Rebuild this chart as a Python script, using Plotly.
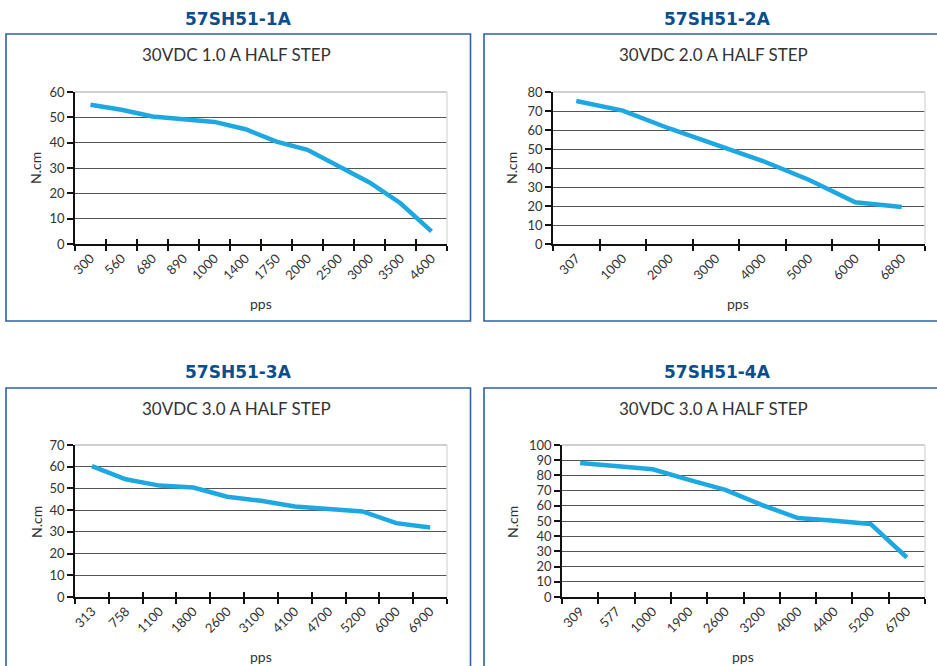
import plotly.graph_objects as go

W, H = 937, 666

# ---- data ----
titles = ["57SH51-1A", "57SH51-2A", "57SH51-3A", "57SH51-4A"]
subtitles = ["30VDC 1.0 A HALF STEP", "30VDC 2.0 A HALF STEP",
             "30VDC 3.0 A HALF STEP", "30VDC 3.0 A HALF STEP"]

pps_1 = ["300", "560", "680", "890", "1000", "1400", "1750", "2000", "2500", "3000", "3500", "4600"]
torque_1 = [55, 53, 50.3, 49.4, 48.2, 45.3, 40.4, 37.2, 31, 24.3, 16.1, 5]

pps_2 = ["307", "1000", "2000", "3000", "4000", "5000", "6000", "6800"]
torque_2 = [75.3, 70.2, 60.8, 52.6, 43.8, 33.8, 22, 19.5]

pps_3 = ["313", "758", "1100", "1800", "2600", "3100", "4100", "4700", "5200", "6000", "6900"]
torque_3 = [60.3, 54.2, 51.3, 50.4, 46.2, 44.3, 41.7, 40.4, 39.4, 34, 32]

pps_4 = ["309", "577", "1000", "1900", "2600", "3200", "4000", "4400", "5200", "6700"]
torque_4 = [88.2, 86.4, 84, 77, 70.5, 60.6, 51.9, 50.1, 48.1, 26]

y_max = [60, 80, 70, 100]

xs = [pps_1, pps_2, pps_3, pps_4]
ys = [torque_1, torque_2, torque_3, torque_4]

# ---- layout geometry (pixels) ----
def px(x):
    return x / W

def py(y):
    return 1 - y / H

plot_px = [  # x0, x1, ytop, ybottom
    (75, 447, 92, 244),
    (553, 925, 92, 244),
    (75, 447, 445, 597),
    (562, 925, 445, 597),
]
box_px = [
    (6, 470.5, 34, 321),
    (484, 945, 34, 321),
    (6, 470.5, 388, 675),
    (484, 945, 388, 675),
]
title_pos = [(238, 19), (717, 19), (238, 372), (717, 372)]
sub_pos = [(236, 55), (713, 55), (236, 408), (713, 408)]
pps_pos = [(261, 304), (738, 304), (261, 656), (743, 656)]
ncm_pos = [(36, 168), (512, 168), (36, 522), (512, 522)]

FONT = "Lato, 'Open Sans', sans-serif"
LINE_COLOR = "#1ea8e2"
BOX_COLOR = "#2f62a0"
TITLE_COLOR = "#0c4d8c"
GRID = "#555555"

fig = go.Figure()
shapes = []
annotations = []
layout_axes = {}

for i in range(4):
    n = i + 1
    xa = "x" if n == 1 else f"x{n}"
    ya = "y" if n == 1 else f"y{n}"
    xo = f"x{n + 4}"  # overlay axis for the inner half of crossing ticks
    fig.add_trace(go.Scatter(
        x=xs[i], y=ys[i], mode="lines",
        line=dict(color=LINE_COLOR, width=4.5, shape="linear"),
        xaxis=xa, yaxis=ya, showlegend=False, hoverinfo="x+y"))
    fig.add_trace(go.Scatter(
        x=xs[i], y=ys[i], mode="lines", opacity=0,
        line=dict(color=LINE_COLOR, width=0),
        xaxis=xo, yaxis=ya, showlegend=False, hoverinfo="skip"))

    x0, x1, yt, yb = plot_px[i]
    common_x = dict(
        domain=[px(x0), px(x1)], anchor=ya, type="category",
        categoryorder="array", categoryarray=xs[i],
        range=[-0.5, len(xs[i]) - 0.5], tickson="boundaries",
        tickwidth=1.5, tickcolor="#111", showgrid=False, zeroline=False,
        automargin=False, fixedrange=True)
    layout_axes["xaxis" if n == 1 else f"xaxis{n}"] = dict(
        common_x, ticks="outside", ticklen=5,
        showline=True, linecolor="#111", linewidth=1.5, tickangle=-45,
        tickfont=dict(family=FONT, size=13, color="#333"))
    layout_axes[f"xaxis{n + 4}"] = dict(
        common_x, overlaying=xa, side="bottom", ticks="inside", ticklen=5,
        showline=False, showticklabels=False)
    layout_axes["yaxis" if n == 1 else f"yaxis{n}"] = dict(
        domain=[py(yb), py(yt)], anchor=xa,
        range=[0, y_max[i]], dtick=10, tick0=0,
        ticks="outside", ticklen=6, tickwidth=1.5, tickcolor="#111",
        showline=True, linecolor="#111", linewidth=1.5, automargin=False,
        showgrid=True, gridcolor=GRID, gridwidth=1.2, zeroline=False,
        tickfont=dict(family=FONT, size=13, color="#333"), fixedrange=True)

    # light plot-area border (top and right)
    xdom = f"{xa} domain"
    ydom = f"{ya} domain"
    shapes.append(dict(type="line", xref=xdom, yref=ydom, x0=0, x1=1, y0=1, y1=1,
                       line=dict(color="#cfcfcf", width=2), layer="above"))
    shapes.append(dict(type="line", xref=xdom, yref=ydom, x0=1, x1=1, y0=0, y1=1,
                       line=dict(color="#dcdcdc", width=1.5), layer="above"))

    # outer box
    bx0, bx1, by0, by1 = box_px[i]
    shapes.append(dict(type="rect", xref="paper", yref="paper",
                       x0=px(bx0), x1=px(bx1), y0=py(by1), y1=py(by0),
                       line=dict(color=BOX_COLOR, width=1.6), layer="below"))

    annotations.append(dict(text=f"<b>{titles[i]}</b>", xref="paper", yref="paper",
                            x=px(title_pos[i][0]), y=py(title_pos[i][1]),
                            showarrow=False, xanchor="center", yanchor="middle",
                            font=dict(family="'DejaVu Sans', sans-serif",
                                      size=17, color=TITLE_COLOR)))
    annotations.append(dict(text=subtitles[i], xref="paper", yref="paper",
                            x=px(sub_pos[i][0]), y=py(sub_pos[i][1]),
                            showarrow=False, xanchor="center", yanchor="middle",
                            font=dict(family=FONT, size=17, color="#333")))
    annotations.append(dict(text="pps", xref="paper", yref="paper",
                            x=px(pps_pos[i][0]), y=py(pps_pos[i][1]),
                            showarrow=False, xanchor="center", yanchor="middle",
                            font=dict(family=FONT, size=14, color="#333")))
    annotations.append(dict(text="N.cm", xref="paper", yref="paper",
                            x=px(ncm_pos[i][0]), y=py(ncm_pos[i][1]),
                            showarrow=False, xanchor="center", yanchor="middle",
                            textangle=-90,
                            font=dict(family=FONT, size=14, color="#333")))

fig.update_layout(
    template="none",
    width=W, height=H, margin=dict(l=0, r=0, t=0, b=0, pad=0, autoexpand=False),
    paper_bgcolor="white", plot_bgcolor="white",
    shapes=shapes, annotations=annotations, showlegend=False,
    **layout_axes)

fig.write_html("out.html", config={"displayModeBar": False},
               post_script="document.body.style.margin='0';document.body.style.overflow='hidden';")
